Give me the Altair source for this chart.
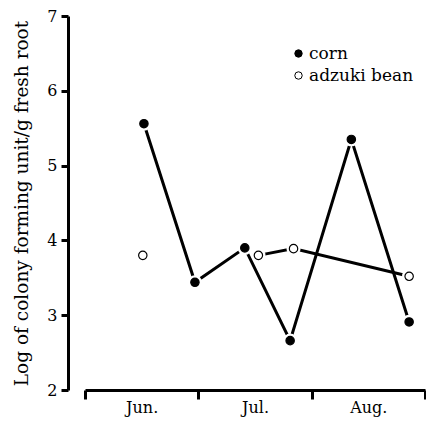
import altair as alt
import pandas as pd

# Data (x in months from start of June)
months = ["Jun.", "Jul.", "Aug."]
corn_x = [0.52, 0.97, 1.41, 1.81, 2.35, 2.86]
corn_y = [5.56, 3.44, 3.90, 2.66, 5.35, 2.91]
adzuki_x = [0.51, 1.53, 1.84, 2.86]
adzuki_y = [3.80, 3.80, 3.89, 3.52]
adzuki_joined = [False, True, True, True]

series = ["corn", "adzuki bean"]

rows = []
for x, y in zip(corn_x, corn_y):
    rows.append({"x": x, "y": y, "series": "corn", "joined": True})
for x, y, j in zip(adzuki_x, adzuki_y, adzuki_joined):
    rows.append({"x": x, "y": y, "series": "adzuki bean", "joined": j})
df = pd.DataFrame(rows)

FONT = "DejaVu Serif"

month_expr = "datum.value < 3 ? [" + ",".join("'%s'" % m for m in months) + "][datum.value] : ''"

W = 340
xenc = alt.X(
    "x:Q",
    scale=alt.Scale(domain=[0, 3], nice=False, zero=False),
    axis=alt.Axis(
        values=[0, 1, 2, 3], title=None, grid=False,
        labelExpr=month_expr, labelOffset=W / 6, labelOverlap=False, labelFlush=False,
        labelBound=False,
        tickSize=9, tickWidth=3, domainWidth=3, tickColor="black", domainColor="black",
        labelFont=FONT, labelFontSize=16, labelColor="black", labelPadding=0,
    ),
)
yenc = alt.Y(
    "y:Q",
    scale=alt.Scale(domain=[2, 7], nice=False, zero=False),
    axis=alt.Axis(
        values=[2, 3, 4, 5, 6, 7], title="Log of colony forming unit/g fresh root",
        grid=False, offset=17, tickSize=7, tickWidth=3, domainWidth=3,
        tickColor="black", domainColor="black",
        labelFont=FONT, labelFontSize=16, labelColor="black", labelPadding=4,
        titleFont=FONT, titleFontSize=18.5, titleFontWeight="normal", titleColor="black",
        titlePadding=15,
    ),
)

base = alt.Chart(df)

corn_line = base.transform_filter(alt.datum.series == "corn").mark_line(
    color="black", strokeWidth=3
).encode(x=xenc, y=yenc, order="x:Q")

adzuki_line = base.transform_filter(
    (alt.datum.series == "adzuki bean") & alt.datum.joined
).mark_line(color="black", strokeWidth=3).encode(x=xenc, y=yenc, order="x:Q")

halo = base.mark_circle(color="white", size=200, opacity=1).encode(x=xenc, y=yenc)

points = base.mark_point(
    filled=True, shape="circle", stroke="black", strokeWidth=1.2, size=70, opacity=1
).encode(
    x=xenc,
    y=yenc,
    fill=alt.Fill(
        "series:N",
        scale=alt.Scale(domain=series, range=["black", "white"]),
        legend=alt.Legend(
            orient="none", legendX=205, legendY=29, title=None,
            labelFont=FONT, labelFontSize=17, labelColor="black",
            symbolType="circle", symbolSize=55, symbolStrokeColor="black",
            symbolStrokeWidth=1, rowPadding=4, labelOffset=2, padding=0,
        ),
    ),
)

chart = alt.layer(corn_line, adzuki_line, halo, points).properties(
    width=W,
    height=374,
    autosize=alt.AutoSizeParams(type="none"),
    padding={"left": 77, "top": 8, "right": 1, "bottom": 27},
    background="white",
).configure_view(stroke=None)

chart.save("out.html", embed_options={"renderer": "svg", "actions": False})
